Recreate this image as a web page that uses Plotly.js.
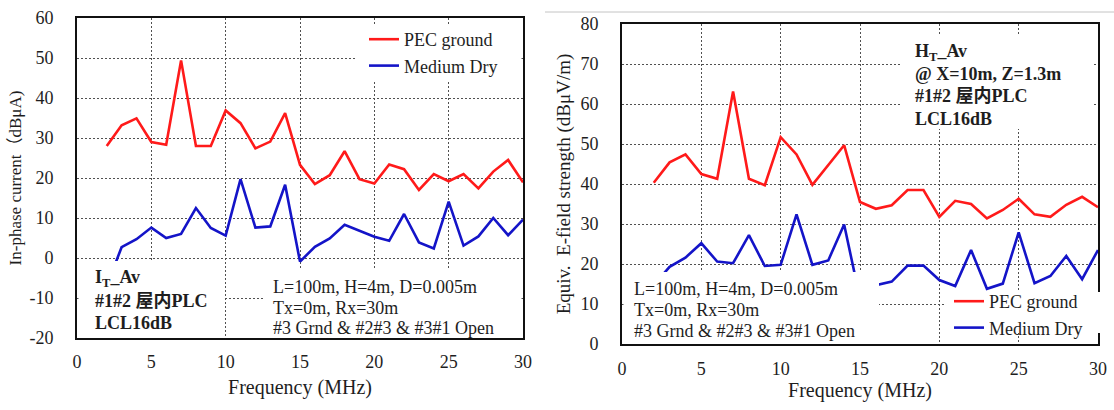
<!DOCTYPE html>
<html>
<head>
<meta charset="utf-8">
<script src="https://cdn.plot.ly/plotly-3.0.1.min.js"></script>
<style>
  html, body { margin: 0; padding: 0; background: #fff; }
  #chart { width: 1114px; height: 410px; }
</style>
</head>
<body>
<div id="chart"></div>
<script>
// Frequency points (MHz)
const freq = [2, 3, 4, 5, 6, 7, 8, 9, 10, 11, 12, 13, 14, 15, 16, 17, 18, 19, 20, 21, 22, 23, 24, 25, 26, 27, 28, 29, 30];

// In-phase current I_T_Av (dBµA)
const currentPec = [28.0, 33.2, 34.9, 29.0, 28.3, 49.4, 28.0, 28.0, 36.9, 33.7, 27.4, 29.1, 36.2, 23.3, 18.5, 20.7, 26.7, 19.7, 18.6, 23.4, 22.2, 17.0, 21.0, 19.2, 21.0, 17.4, 21.6, 24.5, 18.9];
const currentDry = [-7.0, 2.7, 4.7, 7.6, 5.0, 6.0, 12.5, 7.5, 5.6, 19.7, 7.6, 7.9, 18.3, -0.9, 2.8, 4.9, 8.3, 6.8, 5.3, 4.3, 11.0, 3.9, 2.4, 14.1, 3.1, 5.4, 10.0, 5.7, 9.6];

// Equivalent E-field strength H_T_Av (dBµV/m)
const fieldPec = [40.3, 45.4, 47.4, 42.5, 41.3, 63.1, 41.3, 39.7, 51.7, 47.4, 39.8, 44.8, 49.7, 35.5, 33.8, 34.7, 38.5, 38.5, 31.8, 35.8, 35.0, 31.4, 33.5, 36.3, 32.4, 31.8, 34.8, 36.8, 34.2];
const fieldDry = [14.7, 19.3, 21.6, 25.2, 20.6, 20.2, 27.2, 19.5, 19.8, 32.4, 19.8, 20.9, 29.9, 11.3, 14.7, 15.6, 19.6, 19.6, 16.0, 14.5, 23.5, 13.8, 15.1, 27.9, 15.2, 17.0, 22.0, 16.2, 23.5];

// Tick values and labels
const freqTicks = [0, 5, 10, 15, 20, 25, 30];
const freqTickText = ['0', '5', '10', '15', '20', '25', '30'];
const currentTicks = [-20, -10, 0, 10, 20, 30, 40, 50, 60];
const currentTickText = ['-20', '-10', '0', '10', '20', '30', '40', '50', '60'];
const fieldTicks = [0, 10, 20, 30, 40, 50, 60, 70, 80];
const fieldTickText = ['0', '10', '20', '30', '40', '50', '60', '70', '80'];

// Series names and text blocks
const seriesNames = ['PEC ground', 'Medium Dry'];
const xTitle = 'Frequency (MHz)';
const yTitleCurrent = 'In-phase current（dBμA)';
const yTitleField = 'Equiv.  E-field strength (dBμV/m)';
const currentCaseLines = ['I<sub>T</sub>_Av', '#1#2 屋内PLC', 'LCL16dB'];
const fieldCaseLines = ['H<sub>T</sub>_Av', '@ X=10m, Z=1.3m', '#1#2 屋内PLC', 'LCL16dB'];
const geometryLines = ['L=100m, H=4m, D=0.005m', 'Tx=0m, Rx=30m', '#3 Grnd &amp; #2#3 &amp; #3#1 Open'];

// ---- drawing ----
const W = 1114, H = 410;
const px = x => x / W;
const py = y => 1 - y / H;

const SERIF = 'Liberation Serif, Times New Roman, Noto Sans CJK JP, serif';
const TXT = '#1e1e1e';
const RED = '#ff1a1a';
const BLUE = '#1414c8';

function line(x, y, name, color, xa, ya, legend) {
  return {
    type: 'scatter', mode: 'lines', x: x, y: y, name: name,
    xaxis: xa, yaxis: ya, legend: legend,
    line: { color: color, width: 2.6 },
    hoverinfo: 'x+y+name'
  };
}

const traces = [
  line(freq, currentPec, seriesNames[0], RED, 'x', 'y', 'legend'),
  line(freq, currentDry, seriesNames[1], BLUE, 'x', 'y', 'legend'),
  line(freq, fieldPec, seriesNames[0], RED, 'x2', 'y2', 'legend2'),
  line(freq, fieldDry, seriesNames[1], BLUE, 'x2', 'y2', 'legend2')
];

function axisBase(vals, labels) {
  return {
    showgrid: true, gridcolor: '#505050', gridwidth: 1, griddash: '2px,2px',
    showline: true, mirror: true, linecolor: '#111', linewidth: 2,
    zeroline: false, ticks: '', fixedrange: true,
    tickmode: 'array', tickvals: vals, ticktext: labels,
    tickfont: { family: SERIF, size: 18, color: TXT }
  };
}

const xa1 = Object.assign(axisBase(freqTicks, freqTickText), {
  domain: [px(77), px(523)], range: [0, 30], anchor: 'y',
  ticklabelstandoff: 6,
  title: { text: xTitle, font: { family: SERIF, size: 20, color: TXT }, standoff: 9 }
});
const ya1 = Object.assign(axisBase(currentTicks, currentTickText), {
  domain: [py(338), py(18)], range: [-20, 60], anchor: 'x',
  ticklabelstandoff: 18,
  title: { text: yTitleCurrent, font: { family: SERIF, size: 17, color: TXT }, standoff: 3 }
});
const xa2 = Object.assign(axisBase(freqTicks, freqTickText), {
  domain: [px(622), px(1098)], range: [0, 30], anchor: 'y2',
  ticklabelstandoff: 7,
  title: { text: xTitle, font: { family: SERIF, size: 20, color: TXT }, standoff: 4 }
});
const ya2 = Object.assign(axisBase(fieldTicks, fieldTickText), {
  domain: [py(344), py(24)], range: [0, 80], anchor: 'x2',
  ticklabelstandoff: 18,
  title: { text: yTitleField, font: { family: SERIF, size: 19, color: TXT }, standoff: 5 }
});

// White panels behind the text blocks and legends
function mask(x0, y0, x1, y1) {
  return { type: 'rect', xref: 'paper', yref: 'paper', layer: 'above',
    x0: px(x0), x1: px(x1), y0: py(y1), y1: py(y0),
    fillcolor: '#ffffff', line: { width: 0 } };
}
const shapes = [
  mask(355, 26, 521.5, 80),     // legend, current chart
  mask(78.5, 261, 225, 337),    // case block, current chart
  mask(264, 268, 521.5, 337),   // geometry block, current chart
  mask(902, 34, 1093, 129),     // case block, field chart
  mask(623.5, 272, 879, 343),   // geometry block, field chart
  mask(945, 292, 1102, 333),    // legend, field chart
  { type: 'line', xref: 'paper', yref: 'paper', layer: 'above',
    x0: px(545), x1: 1, y0: py(12), y1: py(12), line: { color: '#c4c4c4', width: 1 } }
];

function textBlock(lines, x, yStart, step, bold) {
  return lines.map((t, i) => ({
    xref: 'paper', yref: 'paper', x: px(x), y: py(yStart + i * step),
    xanchor: 'left', yanchor: 'middle', showarrow: false, align: 'left',
    text: bold ? '<b>' + t + '</b>' : t,
    font: { family: SERIF, size: 18, color: TXT }
  }));
}
const annotations = [].concat(
  textBlock(currentCaseLines, 93, 278, 22.5, true),
  textBlock(geometryLines, 271, 287, 20.5, false),
  textBlock(fieldCaseLines, 913, 52, 22.2, true),
  textBlock(geometryLines, 632, 289, 21, false)
);

const legendStyle = {
  bgcolor: 'rgba(0,0,0,0)', borderwidth: 0,
  font: { family: SERIF, size: 18, color: TXT },
  xanchor: 'left', yanchor: 'top', tracegroupgap: 0
};

const layout = {
  width: W, height: H,
  margin: { l: 0, r: 0, t: 0, b: 0 },
  font: { family: SERIF, size: 18, color: TXT },
  paper_bgcolor: '#fff', plot_bgcolor: '#fff',
  showlegend: true,
  xaxis: xa1, yaxis: ya1, xaxis2: xa2, yaxis2: ya2,
  legend: Object.assign({ x: px(364), y: py(21) }, legendStyle),
  legend2: Object.assign({ x: px(949), y: py(283) }, legendStyle),
  shapes: shapes,
  annotations: annotations
};

Plotly.newPlot('chart', traces, layout, { displayModeBar: false, staticPlot: true });
</script>
</body>
</html>
